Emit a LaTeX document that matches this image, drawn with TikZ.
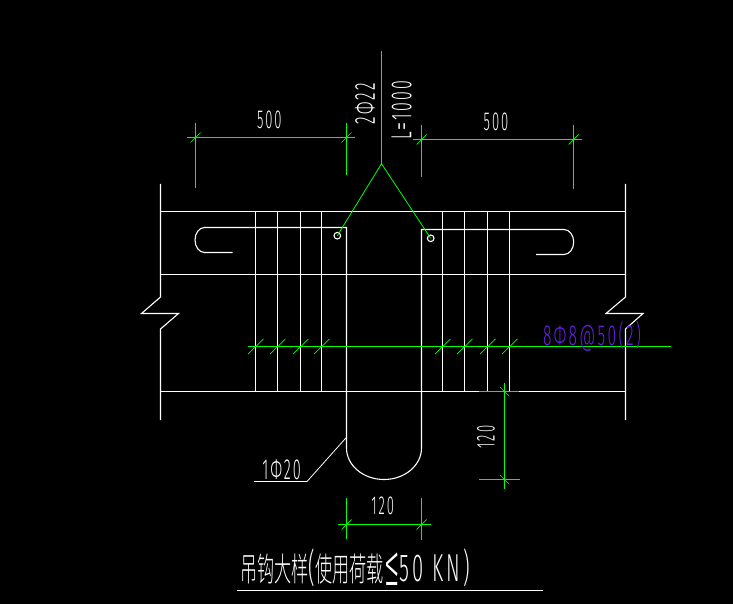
\documentclass[tikz,border=0pt]{standalone}
\usepackage{fontspec}
\setmainfont[LetterSpace=15]{Fira Sans Light}
\newfontfamily\cjkfont{Noto Sans CJK SC Light}
\usepackage{xcolor}
\definecolor{DimGreen}{HTML}{00ff00}
\definecolor{BarPurple}{HTML}{6a1fe8}
\newcommand{\cadtext}[3]{\scalebox{#1}[1]{\fontsize{#2}{#2}\selectfont #3}}
\tikzset{
    bar/.style={white,line width=1.1pt},
    dim/.style={DimGreen,line width=1.1pt},
    slash/.style={DimGreen,line width=0.7pt},
    label/.style={white,inner sep=0pt}
}

\begin{document}
\begin{tikzpicture}[x=1pt,y=-1pt]
    \fill[black] (0,0) rectangle (733,604);
    \useasboundingbox (0,0) rectangle (733,604);

    \draw[bar] (160.5,184) -- (160.5,297) -- (141.5,313.5) -- (178.5,313.5) -- (160.5,329) -- (160.5,420);
    \draw[bar] (625.5,184) -- (625.5,297) -- (606,313.5) -- (643,313.5) -- (625.5,329) -- (625.5,420);
    \foreach \y in {211.5,274.5,391.5} {
     \draw[bar] (160.5,\y) -- (625.5,\y);
    }
    \foreach \x in {255.5,277.5,300.5,321.5,442.5,464.5,487.5,509.5} {
     \draw[bar] (\x,211.5) -- (\x,391.5);
    }
    \draw[bar] (232.7,252.5) -- (204.5,252.5) arc (90:270:9.5 and 12.5) -- (346.5,227.5) -- (346.5,448)
        arc (180:0:37.5 and 31.5) -- (421.5,229.5) -- (564,229.5) arc (-90:90:9.7 and 12.5) -- (536,254.5);
    \draw[bar] (337.3,235.7) circle (3.3);
    \draw[bar] (430.7,238.3) circle (3.3);
    \draw[bar,line width=0.8pt] (254,481.5) -- (307,481.5) -- (346.5,437.3);
    \draw[bar] (237.3,590.5) -- (543,590.5);

    \draw[dim] (381.5,51) -- (381.5,163.7);
    \draw[dim,line width=0.8pt] (337.3,235.7) -- (381.5,163.7) -- (430.7,238.3);

    \draw[dim] (187,137.5) -- (355,137.5);
    \draw[dim] (413,139.5) -- (582,139.5);
    \draw[dim] (338,524.5) -- (430.7,524.5);
    \draw[dim] (248,346.5) -- (670.7,346.5);
    \draw[dim] (504.5,383) -- (504.5,488.7);
    \draw[dim] (479,391.5) -- (519,391.5);
    \draw[dim] (479,479.5) -- (520,479.5);
    \foreach \x/\top/\bot in {195.5/123/187.7,346.5/123/174.7,421.5/125/176.7,573.5/125/189.3,346.5/498/538.7,421.5/498/539.7} {
     \draw[dim] (\x,\top) -- (\x,\bot);
    }

    \foreach \x/\y in {195.5/137.5,346.5/137.5,421.5/139.5,573.5/139.5,346.5/524.5,421.5/524.5} {
     \draw[slash] (\x-5,\y+5) -- (\x+5,\y-5);
    }
    \foreach \x in {255.5,277.5,300.5,321.5,442.5,464.5,487.5,509.5} {
     \draw[slash] (\x-7.5,346.5+7.5) -- (\x+8,346.5-7.5);
    }
    \foreach \y in {391.5,479.5} {
     \draw[slash] (504.5-4.5,\y-4.5) -- (504.5+4.5,\y+4.5);
    }

    \node[label] (leftsize) at (269.3,119.7) {\cadtext{0.5}{26}{500}};
    \node[label] (rightsize) at (496,121.7) {\cadtext{0.5}{26}{500}};
    \node[label,rotate=90] (hookbar) at (365,103.8) {\cadtext{0.54}{29}{2Φ22}};
    \node[label,rotate=90] (hooklength) at (401.7,110) {\cadtext{0.55}{29}{L=1000}};
    \node[label,BarPurple] (stirrup) at (592,336) {\cadtext{0.54}{29}{8Φ8@50(2)}};
    \node[label,rotate=90] (depth) at (486,437) {\cadtext{0.5}{26}{120}};
    \node[label] (width) at (382.7,506) {\cadtext{0.5}{26}{120}};
    \node[label] (mainbar) at (281.7,469.3) {\cadtext{0.5}{29}{1Φ20}};
    \node[label] (title) at (355,568) {\cadtext{0.52}{33}{{\cjkfont 吊钩大样}{\fontsize{39}{39}\selectfont (}{\cjkfont 使用荷载}\raisebox{-4pt}{\fontsize{60}{60}\selectfont ≤}{\fontsize{39}{39}\selectfont 50 KN)}}};
\end{tikzpicture}
\end{document}
